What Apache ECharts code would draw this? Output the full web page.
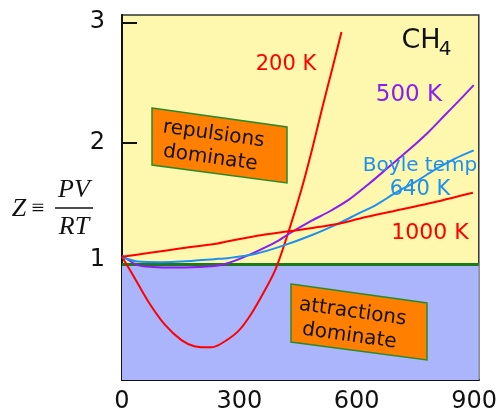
<!DOCTYPE html>
<html>
<head>
<meta charset="utf-8">
<script src="https://cdn.jsdelivr.net/npm/echarts@6/dist/echarts.min.js"></script>
<style>html,body{margin:0;padding:0;background:#fff}#c{width:500px;height:414px}</style>
</head>
<body>
<div id="c"></div>
<script>
// ---- data (P in atm on x, Z on y) ----
const xTicks = [0, 300, 600, 900];
const yTicks = [1, 2, 3];
const X_MIN = 0, X_MAX = 912, Y_MIN = 0.04, Y_MAX = 3.06;
const Z_IDEAL = 1;

const t200 = [[0,1.06],[33,0.88],[67,0.69],[109,0.50],[152,0.37],[185,0.32],[228,0.31],[253,0.34],[296,0.44],[329,0.58],[363,0.77],[393,0.96],[427,1.28],[459,1.62],[486,1.95],[511,2.28],[537,2.61],[561,2.92]];
const t500 = [[0,1.07],[40,0.99],[80,0.975],[130,0.97],[194,0.975],[250,0.99],[291,1.03],[342,1.10],[393,1.18],[427,1.25],[486,1.36],[528,1.43],[579,1.53],[630,1.66],[681,1.80],[732,1.94],[783,2.09],[825,2.23],[867,2.37],[899,2.48]];
const t640 = [[0,1.06],[40,1.02],[100,1.015],[152,1.02],[236,1.04],[274,1.05],[342,1.085],[410,1.15],[486,1.24],[550,1.33],[600,1.41],[650,1.49],[700,1.59],[750,1.68],[800,1.78],[850,1.87],[899,1.94]];
const t1000 = [[0,1.06],[67,1.09],[152,1.13],[236,1.165],[274,1.19],[359,1.24],[427,1.27],[550,1.33],[613,1.38],[698,1.44],[783,1.50],[897,1.59]];

const seriesNames = ['200 K', '500 K', 'Boyle temp 640 K', '1000 K'];
const seriesColors = ['#ff0000', '#8a1ef0', '#1e90f0', '#ff0000'];

const chart = echarts.init(document.getElementById('c'), null, {renderer: 'canvas'});
const FONT = 'DejaVu Sans';
const SERIF = 'Liberation Serif';

function curve(name, data, color) {
  return {
    name: name, type: 'line', data: data, smooth: 0.3, symbol: 'none', z: 5,
    lineStyle: {color: color, width: 2}
  };
}
function txt(x, y, text, size, color, extra) {
  return Object.assign({type: 'text', x: x, y: y, z: 10,
    style: {text: text, fontSize: size, fontFamily: FONT, fill: color, align: 'center', verticalAlign: 'middle'}}, extra || {});
}

const option = {
  animation: false,
  grid: {left: 122, top: 15, width: 359, height: 367, show: true,
         backgroundColor: '#fef7ae', borderColor: '#333', borderWidth: 1.5},
  xAxis: {
    type: 'value', min: X_MIN, max: X_MAX,
    axisLine: {lineStyle: {color: '#111', width: 2}},
    axisTick: {inside: true, length: 9, customValues: xTicks, lineStyle: {color: '#111', width: 2}},
    axisLabel: {customValues: xTicks, fontSize: 24, color: '#111', margin: 10, fontFamily: FONT},
    splitLine: {show: false}
  },
  yAxis: {
    type: 'value', min: Y_MIN, max: Y_MAX,
    axisLine: {show: true, lineStyle: {color: '#111', width: 2}},
    axisTick: {show: true, inside: true, length: 15, customValues: yTicks, lineStyle: {color: '#111', width: 2}},
    axisLabel: {customValues: yTicks, fontSize: 24, color: '#111', margin: 17, fontFamily: FONT,
      formatter: v => v === 1 ? '{up|1}' : String(v),
      rich: {up: {fontSize: 24, color: '#111', fontFamily: FONT, padding: [0, 0, 8, 0]}}},
    splitLine: {show: false}
  },
  series: [
    {
      type: 'line', data: [], z: 1,
      markArea: {silent: true, itemStyle: {color: '#abb5fb'},
        data: [[{yAxis: Y_MIN}, {yAxis: Z_IDEAL}]]},
      markLine: {silent: true, symbol: 'none', label: {show: false},
        lineStyle: {color: '#1c7a1c', width: 3, type: 'solid'},
        data: [{yAxis: Z_IDEAL}]}
    },
    curve(seriesNames[0], t200, seriesColors[0]),
    curve(seriesNames[1], t500, seriesColors[1]),
    curve(seriesNames[2], t640, seriesColors[2]),
    curve(seriesNames[3], t1000, seriesColors[3])
  ],
  graphic: [
    // y axis title  Z ≡ PV/RT
    {type: 'text', x: 19, y: 209, style: {text: 'Z', fontSize: 26, fontStyle: 'italic', fontFamily: SERIF, fill: '#111', align: 'center', verticalAlign: 'middle'}},
    {type: 'text', x: 38, y: 209, style: {text: '≡', fontSize: 23, fontFamily: SERIF, fill: '#111', align: 'center', verticalAlign: 'middle'}},
    {type: 'line', shape: {x1: 55, y1: 208, x2: 93, y2: 208}, style: {stroke: '#111', lineWidth: 1.3}},
    {type: 'text', x: 74, y: 190, style: {text: 'PV', fontSize: 26, fontStyle: 'italic', fontFamily: SERIF, fill: '#111', align: 'center', verticalAlign: 'middle'}},
    {type: 'text', x: 74, y: 227, style: {text: 'RT', fontSize: 26, fontStyle: 'italic', fontFamily: SERIF, fill: '#111', align: 'center', verticalAlign: 'middle'}},
    // curve labels
    txt(286, 65, '200 K', 21, '#ff0000'),
    txt(409, 95, '500 K', 23, '#8a1ef0'),
    txt(420, 166, 'Boyle temp', 20, '#1e90f0'),
    txt(420, 190, '640 K', 21, '#1e90f0'),
    txt(430, 233, '1000 K', 22, '#ff0000'),
    txt(421, 41, 'CH', 27, '#111'),
    txt(445, 50, '4', 20, '#111'),
    // annotation boxes
    {type: 'polygon', z: 10, shape: {points: [[152,108],[287,127],[287,183],[152,165]]}, style: {fill: '#ff8000', stroke: '#2a8a2a', lineWidth: 1.5}},
    {type: 'text', z: 11, x: 212, y: 146, rotation: -0.14, style: {text: 'repulsions\ndominate', fontSize: 20, fontFamily: FONT, fill: '#111', align: 'center', verticalAlign: 'middle', lineHeight: 24}},
    {type: 'polygon', z: 10, shape: {points: [[291,284],[427,303],[427,360],[291,342]]}, style: {fill: '#ff8000', stroke: '#2a8a2a', lineWidth: 1.5}},
    {type: 'text', z: 11, x: 351, y: 324, rotation: -0.14, style: {text: 'attractions\ndominate', fontSize: 20, fontFamily: FONT, fill: '#111', align: 'center', verticalAlign: 'middle', lineHeight: 24}}
  ]
};
chart.setOption(option);
</script>
</body>
</html>
